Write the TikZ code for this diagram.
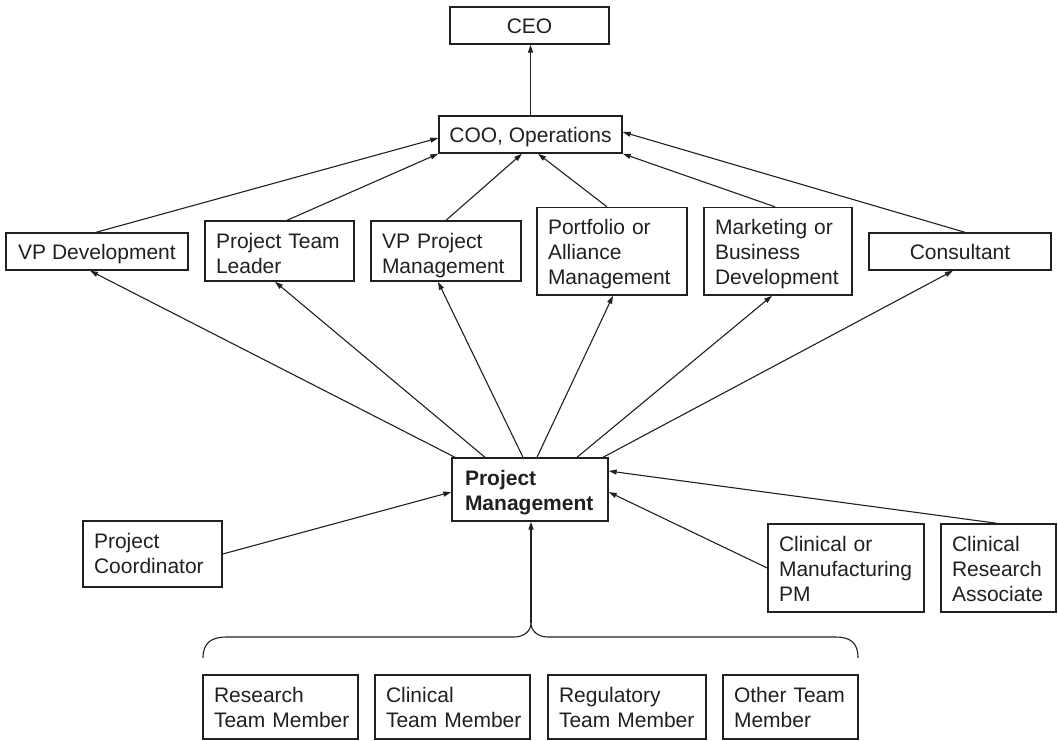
\documentclass[tikz,border=0pt]{standalone}
\usepackage{fontspec}
\setmainfont{Liberation Sans}
\usetikzlibrary{arrows.meta}
\definecolor{ink}{HTML}{231F20}
\newcommand{\orgfont}{\fontsize{21}{25}\selectfont}
\tikzstyle{post} = [rectangle, draw=ink, line width=1.4pt, inner sep=0pt, minimum height=37pt, text height=15pt, text depth=0pt, text=ink, font=\orgfont]
\tikzstyle{duty} = [rectangle, draw=ink, line width=1.4pt, inner xsep=11pt, inner ysep=0pt, text height=27pt, text depth=33pt, align=left, text=ink, font=\orgfont]
\tikzstyle{report} = [draw=ink, line width=1.1pt, -{Triangle[length=8pt,width=5pt]}]

\begin{document}
\begin{tikzpicture}[x=1pt, y=-1pt]
    \useasboundingbox (0,0) rectangle (1058,740);
    % top of the chart
    \node [post, minimum width=159pt] at (529.5,25.5) (ceo) {CEO};
    \node [post, minimum width=183pt] at (530.5,134.5) (coo) {COO, Operations};
    % middle row
    \node [post, minimum width=182pt] at (97,251.5) (vpdev) {VP Development};
    \node [duty, text width=127pt] at (279.5,251) (teamlead) {Project Team\\Leader};
    \node [duty, text width=128pt] at (446,251) (vppm) {VP Project\\Management};
    \node [duty, text width=128pt, text depth=60.5pt] at (612,251.25) (portfolio) {Portfolio or\\Alliance\\Management};
    \node [duty, text width=126pt, text depth=60.5pt] at (778,251.25) (marketing) {Marketing or\\Business\\Development};
    \node [post, minimum width=182pt] at (960,251.5) (consultant) {Consultant};
    % project management and around it
    \node [duty, text width=130pt, inner xsep=13pt, text depth=36pt, font=\orgfont\bfseries] at (530,489.5) (pm) {Project\\Management};
    \node [duty, text width=117pt, text depth=39pt] at (152.5,554) (coordinator) {Project\\Coordinator};
    \node [duty, text width=134pt, text depth=61pt] at (846,568) (clinpm) {Clinical or\\Manufacturing\\PM};
    \node [duty, text width=93pt, text depth=61pt] at (998.5,568) (cra) {Clinical\\Research\\Associate};
    % team members
    \node [duty, text width=133pt, text depth=37pt] at (280.5,707) (research) {Research\\\mbox{Team Member}};
    \node [duty, text width=133pt, text depth=37pt] at (452.5,707) (clinical) {Clinical\\\mbox{Team Member}};
    \node [duty, text width=136pt, text depth=37pt] at (627,707) (regulatory) {Regulatory\\\mbox{Team Member}};
    \node [duty, text width=113pt, text depth=37pt] at (790.5,707) (other) {Other Team\\Member};

    % reporting lines
    \draw [report] (coo.north) -- (coo.north |- ceo.south);
    \draw [report] ([xshift=-1pt]vpdev.north) -- ([yshift=-3.5pt]coo.west);
    \draw [report] ([xshift=7.5pt]teamlead.north) -- (coo.south west);
    \draw [report] (vppm.north) -- ([xshift=-8.5pt]coo.south);
    \draw [report] ([xshift=-5pt]portfolio.north) -- ([xshift=7.5pt]coo.south);
    \draw [report] ([xshift=-3pt]marketing.north) -- (coo.south east);
    \draw [report] ([xshift=5pt]consultant.north) -- ([yshift=2.5pt]coo.east);

    \draw [report] ([xshift=-75pt]pm.north) -- ([xshift=-7pt]vpdev.south);
    \draw [report] ([xshift=-45pt]pm.north) -- ([xshift=-4.5pt]teamlead.south);
    \draw [report] ([xshift=-7pt]pm.north) -- ([xshift=-8pt]vppm.south);
    \draw [report] ([xshift=7pt]pm.north) -- ([xshift=1pt]portfolio.south);
    \draw [report] ([xshift=47pt]pm.north) -- ([xshift=-6pt]marketing.south);
    \draw [report] ([xshift=73pt]pm.north) -- ([xshift=-7pt]consultant.south);

    \draw [report] (coordinator.east) -- ([yshift=-2.5pt]pm.west);
    \draw [report] (clinpm.west) -- ([yshift=-2.5pt]pm.east);
    \draw [report] ([xshift=-1.5pt]cra.north) -- ([yshift=18.5pt]pm.east);

    % brace over the team members
    \draw [ink, line width=1.1pt] (203,658) .. controls (203,643) and (211,637) .. (227,637) -- (514,637)
        .. controls (524,637) and (531,631) .. (531,623)
        .. controls (531,631) and (538,637) .. (548,637) -- (835,637)
        .. controls (851,637) and (858,643) .. (858,658);
    \coordinate (teamtop) at (531,623);
    \draw [report] (teamtop) -- (teamtop |- pm.south);
\end{tikzpicture}
\end{document}
